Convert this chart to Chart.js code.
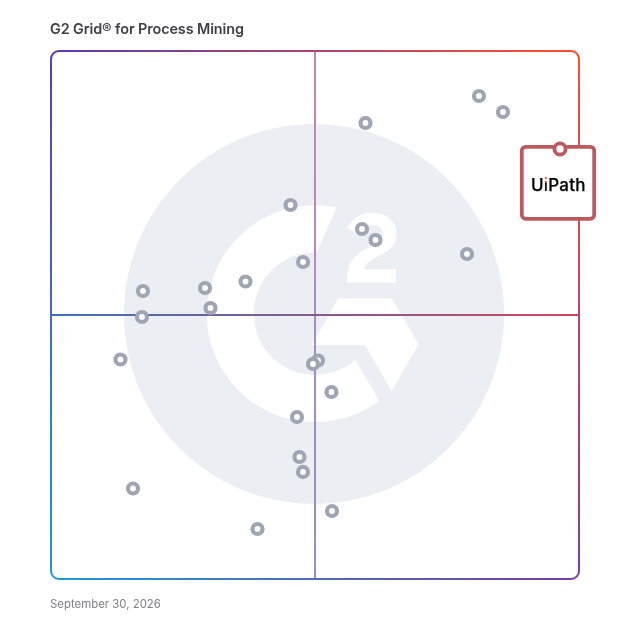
<!DOCTYPE html>
<html>
<head>
<meta charset="utf-8">
<script src="https://cdn.jsdelivr.net/npm/chart.js@4/dist/chart.umd.js"></script>
<style>
html,body{margin:0;padding:0;background:#fff;}
#wrap{position:relative;width:628px;height:628px;overflow:hidden;}
canvas{position:absolute;left:0;top:0;}
.t{position:absolute;white-space:nowrap;}
#title{left:50px;top:20px;font:600 14.4px/18px "Inter",sans-serif;color:#3f3f44;letter-spacing:-0.1px;}
#date{left:50px;top:596px;font:400 11.4px/16px "Inter",sans-serif;color:#808085;}
#brand{left:531px;top:174px;font:500 17px/22px "Inter",sans-serif;color:#000;letter-spacing:0.2px;-webkit-text-stroke:0.25px #000;}
#brand b{font-weight:500;-webkit-text-stroke:0;background:linear-gradient(#f0562a 0%,#f0562a 36%,#1a1010 40%,#111 100%);-webkit-background-clip:text;background-clip:text;color:transparent;}
</style>
</head>
<body>
<div id="wrap">
<canvas id="c" width="628" height="628"></canvas>
<div class="t" id="title">G2 Grid® for Process Mining</div>
<div class="t" id="date">September 30, 2026</div>
<div class="t" id="brand">U<b>i</b>Path</div>
</div>
<script>
const vendorX = [81.06,85.6,59.56,45.36,58.9,61.46,78.79,47.73,36.84,29.17,17.42,30.21,17.23,13.16,50.57,49.62,53.12,46.59,47.06,47.73,15.53,53.22,39.11];
const vendorY = [91.48,88.45,86.36,70.83,66.29,64.2,61.55,60.04,56.34,55.11,54.55,51.33,49.62,41.57,41.38,40.72,35.42,30.68,23.11,20.27,17.14,12.88,9.47];
const highlightX = [96.4];
const highlightY = [81.44];
const highlightName = "UiPath";

function side(ctx,x1,y1,x2,y2,c1,c2,w){
  const g=ctx.createLinearGradient(x1,y1,x2,y2);
  g.addColorStop(0,c1);g.addColorStop(1,c2);
  ctx.strokeStyle=g;ctx.lineWidth=w;ctx.beginPath();ctx.moveTo(x1,y1);ctx.lineTo(x2,y2);ctx.stroke();
}
const gridDecor={
  id:'gridDecor',
  beforeDatasetsDraw(chart){
    const {ctx,chartArea:a,scales:{x,y}}=chart;
    const L=a.left,R=a.right,T=a.top,B=a.bottom,cx=x.getPixelForValue(50),cy=y.getPixelForValue(50);
    ctx.save();
    // G2 watermark
    ctx.fillStyle='#ebeef2';
    ctx.beginPath();ctx.arc(cx-1,cy-1,190,0,Math.PI*2);ctx.fill();
    ctx.translate(190,190);ctx.scale(1/3,1/3);
    ctx.fillStyle='#fff';
    // G
    const gx=375,gy=371,ro=325,ri=184;
    const a1=Math.atan2(53-gy,441-gx),a2=Math.atan2(633-gy,568-gx);
    const b1=Math.atan2(185-gy,380-gx),b2=Math.atan2(514-gy,499-gx);
    ctx.beginPath();
    ctx.arc(gx,gy,ro,a1,a2,true);
    ctx.lineTo(499,514);
    ctx.arc(gx,gy,ri,b2,b1,false);
    ctx.closePath();ctx.fill();
    // chevron
    ctx.beginPath();
    [[445,325],[605,325],[686,463],[605,603],[525,465],[365,465]].forEach((p,i)=>i?ctx.lineTo(p[0],p[1]):ctx.moveTo(p[0],p[1]));
    ctx.closePath();ctx.fill();
    // 2
    ctx.beginPath();
    ctx.moveTo(472,112);
    ctx.bezierCurveTo(488,84,515,68,548,68);
    ctx.bezierCurveTo(592,68,620,96,620,132);
    ctx.bezierCurveTo(620,166,594,184,566,198);
    ctx.bezierCurveTo(540,211,526,222,522,237);
    ctx.lineTo(618,237);ctx.lineTo(618,278);ctx.lineTo(472,278);ctx.lineTo(472,258);
    ctx.bezierCurveTo(472,214,500,190,540,170);
    ctx.bezierCurveTo(565,158,578,150,578,132);
    ctx.bezierCurveTo(578,116,565,106,547,106);
    ctx.bezierCurveTo(528,106,510,116,498,134);
    ctx.closePath();ctx.fill();
    ctx.setTransform(chart.currentDevicePixelRatio,0,0,chart.currentDevicePixelRatio,0,0);
    // centre lines
    ctx.lineCap='butt';
    side(ctx,cx,T,cx,B,'#c587b0','#8f8fd0',2);
    side(ctx,L,cy,R,cy,'#3c70c2','#d1455e',2);
    // border
    const tl='#5a3cb0',tr='#ff4f2e',br='#7e3c9e',bl='#1f9ad6',r=8;
    const g=(x1,y1,x2,y2,c1,c2)=>{const q=ctx.createLinearGradient(x1,y1,x2,y2);q.addColorStop(0,c1);q.addColorStop(1,c2);return q;};
    ctx.lineWidth=2;
    ctx.strokeStyle=g(L,T,R,T,tl,tr);ctx.beginPath();ctx.moveTo(L+r,T);ctx.lineTo(R-r,T);ctx.stroke();
    ctx.strokeStyle=g(R,T,R,B,tr,br);ctx.beginPath();ctx.moveTo(R,T+r);ctx.lineTo(R,B-r);ctx.stroke();
    ctx.strokeStyle=g(L,B,R,B,bl,br);ctx.beginPath();ctx.moveTo(L+r,B);ctx.lineTo(R-r,B);ctx.stroke();
    ctx.strokeStyle=g(L,T,L,B,tl,bl);ctx.beginPath();ctx.moveTo(L,T+r);ctx.lineTo(L,B-r);ctx.stroke();
    ctx.strokeStyle=tl;ctx.beginPath();ctx.arc(L+r,T+r,r,Math.PI,1.5*Math.PI);ctx.stroke();
    ctx.strokeStyle=tr;ctx.beginPath();ctx.arc(R-r,T+r,r,1.5*Math.PI,2*Math.PI);ctx.stroke();
    ctx.strokeStyle=br;ctx.beginPath();ctx.arc(R-r,B-r,r,0,.5*Math.PI);ctx.stroke();
    ctx.strokeStyle=bl;ctx.beginPath();ctx.arc(L+r,B-r,r,.5*Math.PI,Math.PI);ctx.stroke();
    // highlighted vendor card, hung from its point
    const hx=x.getPixelForValue(highlightX[0]),hy=y.getPixelForValue(highlightY[0]);
    ctx.fillStyle='#fff';ctx.strokeStyle='#bd5a5f';ctx.lineWidth=3.8;
    ctx.beginPath();ctx.roundRect(hx-38.2,hy-2.2,72.4,72,4);ctx.fill();ctx.stroke();
    ctx.restore();
  }
};
new Chart(document.getElementById('c'),{
  type:'scatter',
  data:{datasets:[
    {label:'Vendors',data:vendorX.map((v,i)=>({x:v,y:vendorY[i]})),pointRadius:5,pointBorderWidth:4.2,pointBackgroundColor:'#fff',pointBorderColor:'#9fa5b2',pointHoverRadius:5},
    {label:highlightName,data:highlightX.map((v,i)=>({x:v,y:highlightY[i]})),pointRadius:5.6,pointBorderWidth:3.8,pointBackgroundColor:'#fff',pointBorderColor:'#bd5a5f',pointHoverRadius:5.6}
  ]},
  options:{
    responsive:false,animation:false,devicePixelRatio:1,
    layout:{padding:{left:51,right:49,top:51,bottom:49}},
    scales:{x:{type:'linear',min:0,max:100,display:false},y:{type:'linear',min:0,max:100,display:false}},
    plugins:{legend:{display:false},tooltip:{enabled:false}}
  },
  plugins:[gridDecor]
});
</script>
</body>
</html>
